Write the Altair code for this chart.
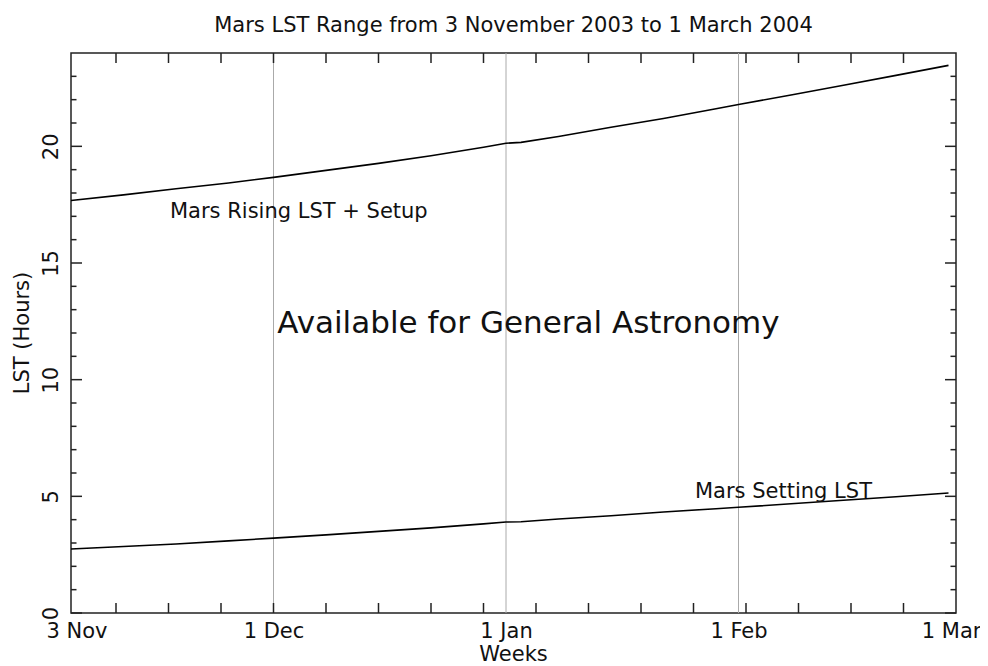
import altair as alt
import pandas as pd

# ---- data ----
days = [1, 8, 15, 22, 28, 35, 42, 49, 56, 59, 61, 66, 73, 80, 87, 90, 97, 104, 111, 118]
rising = [17.68, 17.92, 18.18, 18.43, 18.67, 18.97, 19.27, 19.60, 19.96, 20.13, 20.17,
          20.42, 20.82, 21.19, 21.61, 21.79, 22.20, 22.62, 23.04, 23.47]
setting = [2.74, 2.85, 2.96, 3.09, 3.21, 3.35, 3.50, 3.65, 3.82, 3.90, 3.91,
           4.03, 4.17, 4.33, 4.47, 4.53, 4.68, 4.83, 4.98, 5.14]

label_days = [1, 28, 59, 90, 119]
label_text = ["3 Nov", "1 Dec", "1 Jan", "1 Feb", "1 Mar"]
grid_days = [28, 59, 90]
week_days = [7, 14, 21, 28, 35, 42, 49, 56, 63, 70, 77, 84, 91, 98, 105, 112]
y_major = [0, 5, 10, 15, 20]
y_minor = [1, 2, 3, 4, 6, 7, 8, 9, 11, 12, 13, 14, 16, 17, 18, 19, 21, 22, 23]

small_notes = ["Mars Rising LST + Setup", "Mars Setting LST"]
small_note_day = [14.2, 84.2]
small_note_lst = [16.95, 4.93]
big_note = ["Available for General Astronomy"]
big_note_day = [28.5]
big_note_lst = [11.98]

W, H = 885, 560
FONT = "DejaVu Sans"
INK = "#111111"

lines = pd.DataFrame({
    "day": days * 2,
    "lst": rising + setting,
    "series": ["Rising"] * len(days) + ["Setting"] * len(days),
})

label_expr = "''"
for d, t in reversed(list(zip(label_days, label_text))):
    label_expr = f"datum.value == {d} ? '{t}' : {label_expr}"

xscale = alt.Scale(domain=[1, 119], nice=False, zero=False)
yscale = alt.Scale(domain=[0, 24], nice=False, zero=True)

x_axis = alt.Axis(values=label_days, labelExpr=label_expr, ticks=False, tickSize=0,
                  domain=False, grid=False, labelFlush=True, labelFlushOffset=25,
                  labelOverlap=False,
                  labelFont=FONT, labelFontSize=21, labelColor=INK,
                  labelBaseline="alphabetic", labelPadding=24)
y_axis = alt.Axis(values=y_major, ticks=False, tickSize=0, domain=False, grid=False,
                  labelAngle=-90, labelAlign="center", labelBaseline="alphabetic",
                  labelPadding=14, labelFlush=False, labelOverlap=False,
                  labelFont=FONT, labelFontSize=21, labelColor=INK)

X = lambda: alt.X("day:Q", scale=xscale, title=None, axis=x_axis)
Y = lambda: alt.Y("lst:Q", scale=yscale, title=None, axis=y_axis)

line_layer = alt.Chart(lines).mark_line(color="black", strokeWidth=1.6).encode(
    x=X(), y=Y(), detail="series:N")

grid_layer = alt.Chart(pd.DataFrame({"day": grid_days})).mark_rule(
    color="#aaaaaa", strokeWidth=1).encode(x=X())

wk = pd.DataFrame({"day": week_days})
xt_top = alt.Chart(wk).mark_rule(color="#222222", strokeWidth=1.5).encode(
    x=X(), y=alt.value(0), y2=alt.value(10))
xt_bot = alt.Chart(wk).mark_rule(color="#222222", strokeWidth=1.5).encode(
    x=X(), y=alt.value(H - 10), y2=alt.value(H))

ymaj = pd.DataFrame({"lst": y_major})
ymin = pd.DataFrame({"lst": y_minor})


def ytick(df, x0, x1):
    return alt.Chart(df).mark_rule(color="#222222", strokeWidth=1.5).encode(
        y=Y(), x=alt.value(x0), x2=alt.value(x1))


yt = [ytick(ymaj, 0, 11), ytick(ymaj, W - 11, W), ytick(ymin, 0, 5.5), ytick(ymin, W - 5.5, W)]

notes = alt.Chart(pd.DataFrame({"t": small_notes, "day": small_note_day, "lst": small_note_lst})).mark_text(
    font=FONT, fontSize=21, color=INK, align="left", baseline="alphabetic").encode(
    x=X(), y=Y(), text="t:N")

big = alt.Chart(pd.DataFrame({"t": big_note, "day": big_note_day, "lst": big_note_lst})).mark_text(
    font=FONT, fontSize=31, color=INK, align="left", baseline="alphabetic").encode(
    x=X(), y=Y(), text="t:N")

xtitle = alt.Chart(pd.DataFrame({"t": ["Weeks"]})).mark_text(
    font=FONT, fontSize=21, color=INK, align="center", baseline="alphabetic").encode(
    x=alt.value(W / 2), y=alt.value(H + 48), text="t:N")

ytitle = alt.Chart(pd.DataFrame({"t": ["LST (Hours)"]})).mark_text(
    font=FONT, fontSize=21, color=INK, align="center", baseline="middle", angle=270).encode(
    x=alt.value(-48), y=alt.value(H / 2), text="t:N")

chart = alt.layer(grid_layer, line_layer, xt_top, xt_bot, *yt, notes, big, xtitle, ytitle).properties(
    width=W, height=H,
    title=alt.TitleParams("Mars LST Range from 3 November 2003 to 1 March 2004",
                          font=FONT, fontSize=21, fontWeight="normal", color=INK,
                          anchor="middle", offset=16),
    autosize=alt.AutoSizeParams(type="none"),
    padding={"left": 63, "top": 45, "right": 24, "bottom": 53},
).configure_view(stroke="#222222", strokeWidth=1.5)

chart.save("out.html", embed_options={"renderer": "svg", "actions": False})
